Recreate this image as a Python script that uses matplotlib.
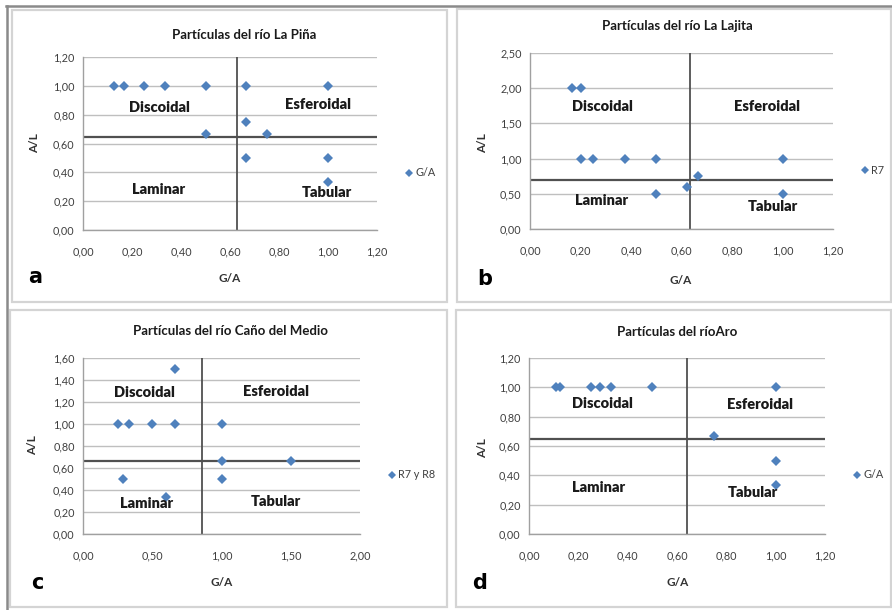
import matplotlib
matplotlib.use("Agg")
import matplotlib.pyplot as plt
from matplotlib.patches import Rectangle
from matplotlib.lines import Line2D
from matplotlib.ticker import FuncFormatter

plt.rcParams['font.family'] = ['Lato', 'DejaVu Sans']

W, H = 892, 610
BLUE = "#4F81BD"

# panel a - La Piña
a_x = [0.125, 0.167, 0.25, 0.333, 0.5, 0.667, 1.0, 0.5, 0.667, 0.75, 0.667, 1.0, 1.0]
a_y = [1.0, 1.0, 1.0, 1.0, 1.0, 1.0, 1.0, 0.667, 0.75, 0.667, 0.5, 0.5, 0.333]
a_lines = [0.63, 0.645]   # G/A limit, A/L limit

# panel b - La Lajita
b_x = [0.167, 0.2, 0.2, 0.25, 0.375, 0.5, 1.0, 0.5, 0.62, 0.667, 1.0]
b_y = [2.0, 2.0, 1.0, 1.0, 1.0, 1.0, 1.0, 0.5, 0.6, 0.75, 0.5]
b_lines = [0.635, 0.70]

# panel c - Caño del Medio
c_x = [0.25, 0.333, 0.5, 0.667, 0.667, 1.0, 0.286, 0.6, 1.0, 1.5, 1.0]
c_y = [1.0, 1.0, 1.0, 1.0, 1.5, 1.0, 0.5, 0.333, 0.667, 0.667, 0.5]
c_lines = [0.86, 0.66]

# panel d - Aro
d_x = [0.111, 0.125, 0.25, 0.286, 0.333, 0.5, 1.0, 0.75, 1.0, 1.0]
d_y = [1.0, 1.0, 1.0, 1.0, 1.0, 1.0, 1.0, 0.667, 0.5, 0.333]
d_lines = [0.64, 0.645]

region_names = ["Discoidal", "Esferoidal", "Laminar", "Tabular"]

panels = [
    dict(x=a_x, y=a_y, lines=a_lines, title="Partículas del río La Piña", legend="G/A",
         xmax=1.2, xstep=0.2, ymax=1.2, ystep=0.2,
         ax_px=(83, 57, 377, 230), box=(12, 10, 447, 302),
         title_px=(244, 35), xlab_px=(230, 279), ylab_px=(35, 143),
         letter="a", letter_px=(35, 277), leg_px=(405, 173),
         labels=[(0.31, 0.85), (0.96, 0.87), (0.31, 0.28), (0.995, 0.26)]),
    dict(x=b_x, y=b_y, lines=b_lines, title="Partículas del río La Lajita", legend="R7",
         xmax=1.2, xstep=0.2, ymax=2.5, ystep=0.5,
         ax_px=(530, 53, 833, 229), box=(457, 9, 891, 302),
         title_px=(677, 26), xlab_px=(681, 280), ylab_px=(483, 143),
         letter="b", letter_px=(485, 279), leg_px=(861, 170),
         labels=[(0.285, 1.74), (0.94, 1.74), (0.285, 0.40), (0.96, 0.32)]),
    dict(x=c_x, y=c_y, lines=c_lines, title="Partículas del río Caño del Medio", legend="R7 y R8",
         xmax=2.0, xstep=0.5, ymax=1.6, ystep=0.2,
         ax_px=(83, 358, 360, 534), box=(10, 310, 447, 607),
         title_px=(230, 331), xlab_px=(222, 582), ylab_px=(33, 445),
         letter="c", letter_px=(37, 583), leg_px=(388, 475),
         labels=[(0.44, 1.29), (1.39, 1.30), (0.46, 0.28), (1.39, 0.30)]),
    dict(x=d_x, y=d_y, lines=d_lines, title="Partículas del ríoAro", legend="G/A",
         xmax=1.2, xstep=0.2, ymax=1.2, ystep=0.2,
         ax_px=(529, 358, 825, 534), box=(456, 310, 891, 607),
         title_px=(677, 332), xlab_px=(678, 582), ylab_px=(483, 448),
         letter="d", letter_px=(480, 583), leg_px=(853, 475),
         labels=[(0.296, 0.89), (0.936, 0.88), (0.282, 0.32), (0.909, 0.28)]),
]


def fx(x):
    return x / W


def fy(y):
    return 1 - y / H


def comma(v, pos):
    return "{:.2f}".format(v).replace(".", ",")


fig = plt.figure(figsize=(W / 100, H / 100), dpi=100)
fig.patch.set_facecolor("white")

# outer frame (dark) at top and left
fig.add_artist(Line2D([fx(6), fx(892)], [fy(6), fy(6)], color="#8a8a8a", lw=1.8))
fig.add_artist(Line2D([fx(7), fx(7)], [fy(6), fy(610)], color="#8a8a8a", lw=1.8))

for p in panels:
    bx0, by0, bx1, by1 = p["box"]
    fig.add_artist(Rectangle((fx(bx0), fy(by1)), fx(bx1 - bx0), (by1 - by0) / H,
                             fill=False, edgecolor="#d4d4d4", lw=1.6))

    l, t, r, b = p["ax_px"]
    ax = fig.add_axes([fx(l), fy(b), fx(r - l), (b - t) / H])
    ax.set_xlim(0, p["xmax"])
    ax.set_ylim(0, p["ymax"])
    nx = int(round(p["xmax"] / p["xstep"]))
    ny = int(round(p["ymax"] / p["ystep"]))
    ax.set_xticks([i * p["xstep"] for i in range(nx + 1)])
    ax.set_yticks([i * p["ystep"] for i in range(ny + 1)])
    ax.xaxis.set_major_formatter(FuncFormatter(comma))
    ax.yaxis.set_major_formatter(FuncFormatter(comma))
    ax.tick_params(length=0, labelsize=7.8, labelcolor="#404040", pad=6)
    ax.tick_params(axis="x", pad=12)
    ax.grid(axis="y", color="#bfbfbf", lw=1.0)
    ax.set_axisbelow(True)
    for s in ["top", "right"]:
        ax.spines[s].set_visible(False)
    for s in ["left", "bottom"]:
        ax.spines[s].set_color("#a0a0a0")
        ax.spines[s].set_linewidth(1.0)

    ax.axvline(p["lines"][0], color="#505050", lw=1.3, zorder=2)
    ax.axhline(p["lines"][1], color="#505050", lw=1.6, zorder=2)

    ax.plot(p["x"], p["y"], ls="none", marker="D", ms=5.6, color=BLUE,
            markeredgewidth=0, zorder=3, clip_on=False)

    for name, (tx, ty) in zip(region_names, p["labels"]):
        ax.text(tx, ty, name, ha="center", va="center", fontsize=10.5,
                fontweight="heavy", color="#1a1a1a", zorder=4)

    fig.text(fx(p["title_px"][0]), fy(p["title_px"][1]), p["title"], ha="center",
             va="center", fontsize=9.5, fontweight="bold", color="#1a1a1a")
    fig.text(fx(p["xlab_px"][0]), fy(p["xlab_px"][1]), "G/A", ha="center",
             va="center", fontsize=8.5, fontweight="bold", color="#333333")
    fig.text(fx(p["ylab_px"][0]), fy(p["ylab_px"][1]), "A/L", ha="center",
             va="center", fontsize=8.5, fontweight="bold", color="#333333", rotation=90)
    fig.text(fx(p["letter_px"][0]), fy(p["letter_px"][1]), p["letter"], ha="center",
             va="center", fontsize=15, fontweight="heavy", color="black",
             family="DejaVu Sans")

    handle = Line2D([], [], ls="none", marker="D", ms=4.5, color=BLUE, markeredgewidth=0)
    fig.legend(handles=[handle], labels=[p["legend"]], loc="center left",
               bbox_to_anchor=(fx(p["leg_px"][0] - 6), fy(p["leg_px"][1])),
               frameon=False, fontsize=7.8, handlelength=0.8, handletextpad=0.2,
               borderpad=0, labelcolor="#404040")

fig.savefig("out.png", dpi=100)
